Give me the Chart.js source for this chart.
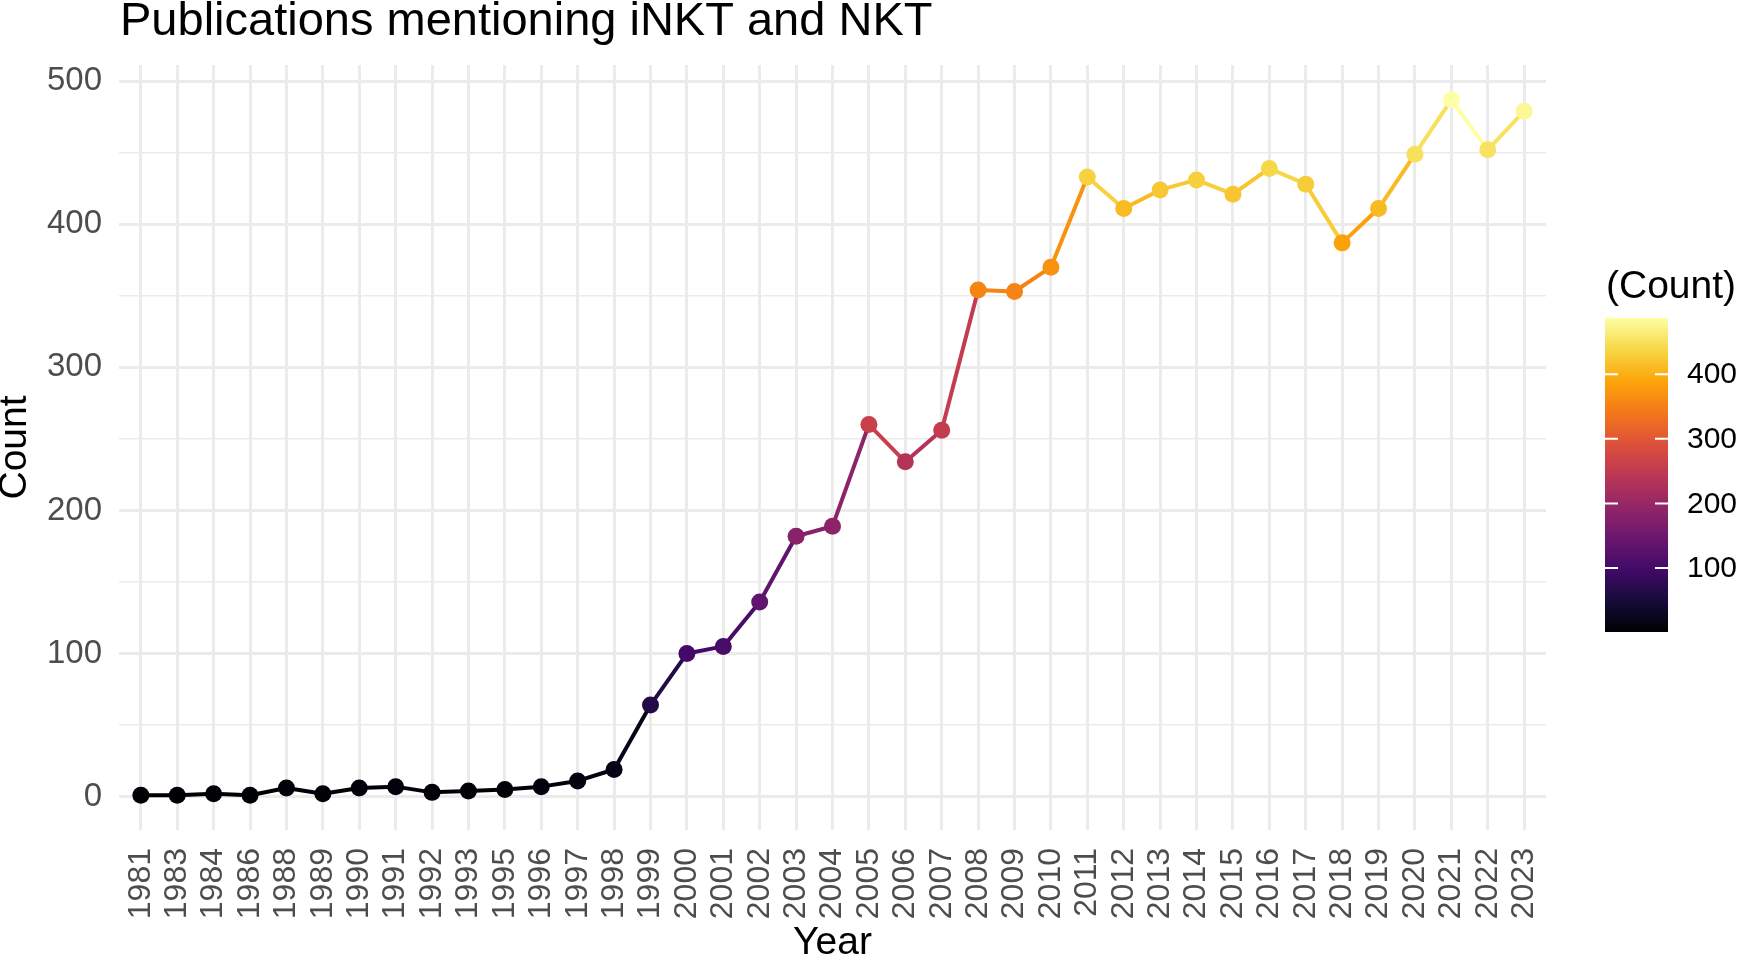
<!DOCTYPE html>
<html>
<head>
<meta charset="utf-8">
<script src="https://cdn.jsdelivr.net/npm/chart.js@4.4.1/dist/chart.umd.min.js"></script>
<style>
    html, body { margin: 0; padding: 0; background: #ffffff; }
    #chart { display: block; }
</style>
</head>
<body>
<canvas id="chart" width="1742" height="960"></canvas>
<script>
// Data
const years = ['1981', '1983', '1984', '1986', '1988', '1989', '1990', '1991', '1992', '1993',
    '1995', '1996', '1997', '1998', '1999', '2000', '2001', '2002', '2003', '2004',
    '2005', '2006', '2007', '2008', '2009', '2010', '2011', '2012', '2013', '2014',
    '2015', '2016', '2017', '2018', '2019', '2020', '2021', '2022', '2023'];
const counts = [1, 1, 2, 1, 6, 2, 6, 7, 3, 4,
    5, 7, 11, 19, 64, 100, 105, 136, 182, 189,
    260, 234, 256, 354, 353, 370, 433, 411, 424, 431,
    421, 439, 428, 387, 411, 449, 487, 452, 479];
const yTicks = [0, 50, 100, 150, 200, 250, 300, 350, 400, 450, 500];
const legendTicks = [100, 200, 300, 400];

const FONT = "'Liberation Sans', Arial, Helvetica, sans-serif";

// inferno palette stops
const inferno = ['#000004', '#160b39', '#420a68', '#6a176e', '#932667', '#bc3754',
    '#dd513a', '#f37819', '#fca50a', '#f6d746', '#fcffa4'];

const minCount = Math.min(...counts);
const maxCount = Math.max(...counts);

function hexToRgb(h) {
    return [parseInt(h.slice(1, 3), 16), parseInt(h.slice(3, 5), 16), parseInt(h.slice(5, 7), 16)];
}

function infernoAt(t) {
    t = Math.max(0, Math.min(1, t));
    const pos = t * (inferno.length - 1);
    const i = Math.min(Math.floor(pos), inferno.length - 2);
    const f = pos - i;
    const a = hexToRgb(inferno[i]);
    const b = hexToRgb(inferno[i + 1]);
    const c = a.map((v, k) => Math.round(v + (b[k] - v) * f));
    return `rgb(${c[0]},${c[1]},${c[2]})`;
}

function countColour(v) {
    return infernoAt((v - minCount) / (maxCount - minCount));
}

const points = counts.map((c, i) => ({ x: i, y: c }));

// Title and colour bar legend
const extras = {
    id: 'extras',
    afterDraw(chart) {
        const ctx = chart.ctx;
        const area = chart.chartArea;
        ctx.save();

        // plot title
        ctx.fillStyle = '#000000';
        ctx.font = `47px ${FONT}`;
        ctx.textAlign = 'left';
        ctx.textBaseline = 'alphabetic';
        ctx.fillText('Publications mentioning iNKT and NKT', area.left + 1, 35);

        // colour bar
        const barLeft = area.right + 59;
        const barWidth = 63;
        const barTop = area.top + 253;
        const barBottom = barTop + 314;

        ctx.font = `39px ${FONT}`;
        ctx.fillText('(Count)', barLeft + 1, barTop - 20);

        const grad = ctx.createLinearGradient(0, barBottom, 0, barTop);
        for (let s = 0; s <= 40; s++) {
            grad.addColorStop(s / 40, infernoAt(s / 40));
        }
        ctx.fillStyle = grad;
        ctx.fillRect(barLeft, barTop, barWidth, barBottom - barTop);

        ctx.font = `30px ${FONT}`;
        ctx.textBaseline = 'middle';
        legendTicks.forEach(v => {
            const y = barBottom - (v - minCount) / (maxCount - minCount) * (barBottom - barTop);
            ctx.strokeStyle = '#ffffff';
            ctx.lineWidth = 2;
            ctx.beginPath();
            ctx.moveTo(barLeft, y);
            ctx.lineTo(barLeft + 13, y);
            ctx.moveTo(barLeft + barWidth - 13, y);
            ctx.lineTo(barLeft + barWidth, y);
            ctx.stroke();
            ctx.fillStyle = '#000000';
            ctx.fillText(String(v), barLeft + barWidth + 19, y + 1);
        });

        ctx.restore();
    }
};

new Chart(document.getElementById('chart'), {
    type: 'line',
    data: {
        datasets: [{
            data: points,
            borderWidth: 4,
            segment: {
                borderColor: c => countColour(c.p0.parsed.y)
            },
            pointRadius: 8.5,
            pointHoverRadius: 8.5,
            pointBorderWidth: 0,
            pointBackgroundColor: c => countColour(c.raw ? c.raw.y : 0),
            pointBorderColor: c => countColour(c.raw ? c.raw.y : 0),
            tension: 0
        }]
    },
    options: {
        responsive: false,
        animation: false,
        devicePixelRatio: 1,
        layout: { padding: { top: 65, right: 196, left: 0, bottom: 0 } },
        plugins: {
            legend: { display: false },
            tooltip: { enabled: false }
        },
        scales: {
            x: {
                type: 'linear',
                min: -0.6,
                max: years.length - 1 + 0.6,
                afterBuildTicks: axis => { axis.ticks = years.map((_, i) => ({ value: i })); },
                afterFit: axis => { axis.height = 130; },
                border: { display: false },
                grid: { color: '#EBEBEB', lineWidth: 3, drawTicks: false },
                ticks: {
                    autoSkip: false,
                    minRotation: 90,
                    maxRotation: 90,
                    padding: 18,
                    color: '#4D4D4D',
                    font: { family: FONT, size: 32 },
                    callback: v => years[v]
                },
                title: {
                    display: true,
                    text: 'Year',
                    color: '#000000',
                    padding: 0,
                    font: { family: FONT, size: 39, lineHeight: 0.85 }
                }
            },
            y: {
                min: -23.3,
                max: 511.3,
                afterBuildTicks: axis => { axis.ticks = yTicks.map(v => ({ value: v })); },
                afterFit: axis => { axis.width = 119; },
                border: { display: false },
                grid: {
                    color: '#EBEBEB',
                    lineWidth: c => (c.tick && c.tick.value % 100 === 0 ? 3 : 1.5),
                    drawTicks: false
                },
                ticks: {
                    padding: 17,
                    color: '#4D4D4D',
                    font: { family: FONT, size: 33 },
                    callback: v => (v % 100 === 0 ? String(v) : '')
                },
                title: {
                    display: true,
                    text: 'Count',
                    color: '#000000',
                    padding: 0,
                    font: { family: FONT, size: 39, lineHeight: 0.8 }
                }
            }
        }
    },
    plugins: [extras]
});
</script>
</body>
</html>
